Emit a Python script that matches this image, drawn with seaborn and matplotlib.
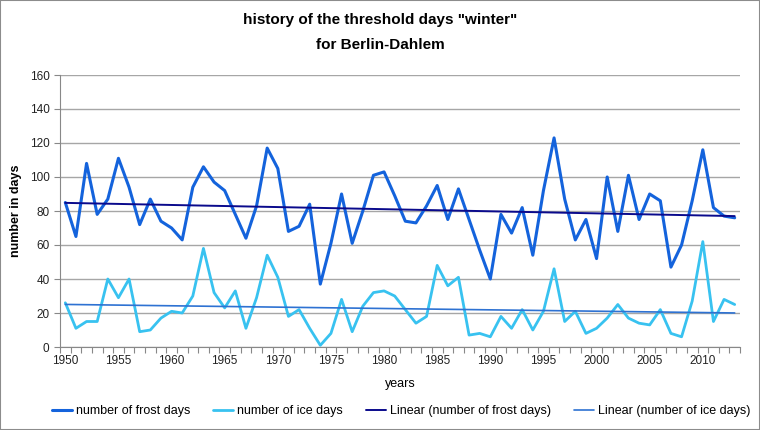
import numpy as np
import pandas as pd
import seaborn as sns
import matplotlib.pyplot as plt
from matplotlib.lines import Line2D
from matplotlib.patches import Rectangle

# data
years = list(range(1950, 2014))
frost_days = [85, 65, 108, 78, 87, 111, 94, 72, 87, 74,
              70, 63, 94, 106, 97, 92, 78, 64, 83, 117,
              105, 68, 71, 84, 37, 61, 90, 61, 80, 101,
              103, 89, 74, 73, 83, 95, 75, 93, 75, 57,
              40, 78, 67, 82, 54, 92, 123, 87, 63, 75,
              52, 100, 68, 101, 75, 90, 86, 47, 60, 86,
              116, 82, 77, 76]
ice_days = [26, 11, 15, 15, 40, 29, 40, 9, 10, 17,
            21, 20, 30, 58, 32, 23, 33, 11, 29, 54,
            41, 18, 22, 11, 1, 8, 28, 9, 24, 32,
            33, 30, 22, 14, 18, 48, 36, 41, 7, 8,
            6, 18, 11, 22, 10, 21, 46, 15, 21, 8,
            11, 17, 25, 17, 14, 13, 22, 8, 6, 27,
            62, 15, 28, 25]

df = pd.DataFrame({"year": years, "frost": frost_days, "ice": ice_days})

# linear trendlines like the spreadsheet
pf = np.polyfit(df["year"], df["frost"], 1)
pi = np.polyfit(df["year"], df["ice"], 1)
df["frost_trend"] = np.polyval(pf, df["year"])
df["ice_trend"] = np.polyval(pi, df["year"])

sns.set_theme(style="white")
plt.rcParams['font.family'] = ['Liberation Sans', 'DejaVu Sans']

c_frost = "#1463DC"
c_ice = "#38C2F0"
c_lin_frost = "#0A0A8C"
c_lin_ice = "#2E72D2"

fig = plt.figure(figsize=(7.6, 4.3), dpi=100)
ax = fig.add_axes([60 / 760, 1 - 347 / 430, 680 / 760, 272 / 430])

sns.lineplot(data=df, x="year", y="frost", ax=ax, color=c_frost, linewidth=2.2)
sns.lineplot(data=df, x="year", y="ice", ax=ax, color=c_ice, linewidth=2.0)
sns.lineplot(data=df, x="year", y="frost_trend", ax=ax, color=c_lin_frost, linewidth=1.4)
sns.lineplot(data=df, x="year", y="ice_trend", ax=ax, color=c_lin_ice, linewidth=1.2)

ax.set_xlim(1949.5, 2013.5)
ax.set_ylim(0, 160)
ax.set_yticks(range(0, 161, 20))
ax.yaxis.grid(True, color="#A6A6A6", linewidth=1)
ax.set_axisbelow(True)

ax.set_xticks(range(1950, 2014, 5))
ax.set_xticks([y - 0.5 for y in years] + [2013.5], minor=True)
ax.tick_params(axis="x", which="major", length=0, labelsize=8.5, pad=6, colors="#222222")
ax.tick_params(axis="x", which="minor", length=4, width=0.8, color="#888888", bottom=True)
ax.tick_params(axis="y", which="major", length=4, width=0.8, color="#888888", left=True,
               labelsize=8.5, colors="#222222")

for s in ["top", "right"]:
    ax.spines[s].set_visible(False)
for s in ["left", "bottom"]:
    ax.spines[s].set_color("#888888")
    ax.spines[s].set_linewidth(0.8)

ax.set_xlabel("years", fontsize=9, labelpad=8, color="black")
ax.set_ylabel("number in days", fontsize=9, fontweight="bold", color="black")
ax.yaxis.set_label_coords((22 - 60) / 680, 0.5)

fig.text(0.5, 1 - 20 / 430, 'history of the threshold days "winter"',
         ha="center", va="center", fontsize=11, fontweight="bold", color="black")
fig.text(0.5, 1 - 45 / 430, "for Berlin-Dahlem",
         ha="center", va="center", fontsize=11, fontweight="bold", color="black")

handles = [Line2D([], [], color=c_frost, linewidth=2.2),
           Line2D([], [], color=c_ice, linewidth=2.0),
           Line2D([], [], color=c_lin_frost, linewidth=1.4),
           Line2D([], [], color=c_lin_ice, linewidth=1.2)]
labels = ["number of frost days", "number of ice days",
          "Linear (number of frost days)", "Linear (number of ice days)"]
leg = fig.legend(handles, labels, loc="center", bbox_to_anchor=(401 / 760, 1 - 411 / 430),
                 ncol=4, frameon=False, fontsize=9, handlelength=1.6, handletextpad=0.3,
                 columnspacing=1.85)
for t in leg.get_texts():
    t.set_color("black")

fig.patches.append(Rectangle((0, 0), 1, 1, transform=fig.transFigure, fill=False,
                             edgecolor="#8C8C8C", linewidth=1.5))

fig.savefig("out.png", dpi=100)
